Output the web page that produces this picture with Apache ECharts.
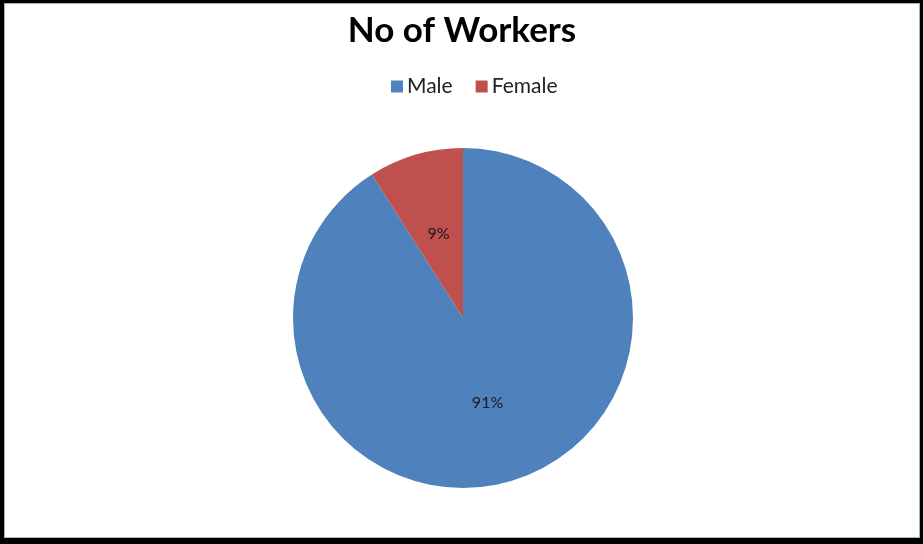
<!DOCTYPE html>
<html>
<head>
<meta charset="utf-8">
<script src="https://cdn.jsdelivr.net/npm/echarts@6/dist/echarts.min.js"></script>
<style>
  html, body { margin: 0; padding: 0; background: #fff; }
  #frame {
    width: 923px; height: 544px; box-sizing: border-box;
    border-style: solid; border-color: #000;
    border-width: 3px 3px 6px 4px;
  }
  #chart {
    width: 100%; height: 100%; box-sizing: border-box;
    border: 1px solid #b0b0b0;
  }
</style>
</head>
<body>
<div id="frame"><div id="chart"></div></div>
<script>
const categories = ['Male', 'Female'];
const shares = [91, 9];
const colors = ['#4F81BD', '#C0504D'];

const chartDom = document.getElementById('chart');
const myChart = echarts.init(chartDom);

const pieData = categories.map((name, i) => ({
    name: name,
    value: shares[i],
    itemStyle: { color: colors[i] },
}));

// frame offsets: left border 4+1, top 3+1
const option = {
    animation: false,
    title: {
        text: 'No of Workers',
        left: 'center',
        top: 4,
        textStyle: {
            fontFamily: 'Lato',
            fontSize: 35,
            fontWeight: 'bold',
            color: '#000',
        },
    },
    legend: {
        data: categories,
        top: 67,
        left: 381,
        icon: 'rect',
        itemWidth: 12,
        itemHeight: 12,
        itemGap: 23,
        textStyle: {
            fontFamily: 'Lato',
            fontSize: 21,
            color: '#222',
            padding: [0, 0, 0, -1],
        },
    },
    series: [
        {
            name: 'No of Workers',
            type: 'pie',
            center: [458, 314],
            radius: 170,
            startAngle: 90,
            clockwise: true,
            silent: true,
            label: {
                show: true,
                position: 'inside',
                formatter: '{c}%',
                fontFamily: 'Lato',
                fontSize: 16,
                color: '#1a1a1a',
            },
            labelLine: { show: false },
            itemStyle: { borderWidth: 0 },
            data: pieData,
        },
    ],
};
myChart.setOption(option);
</script>
</body>
</html>
